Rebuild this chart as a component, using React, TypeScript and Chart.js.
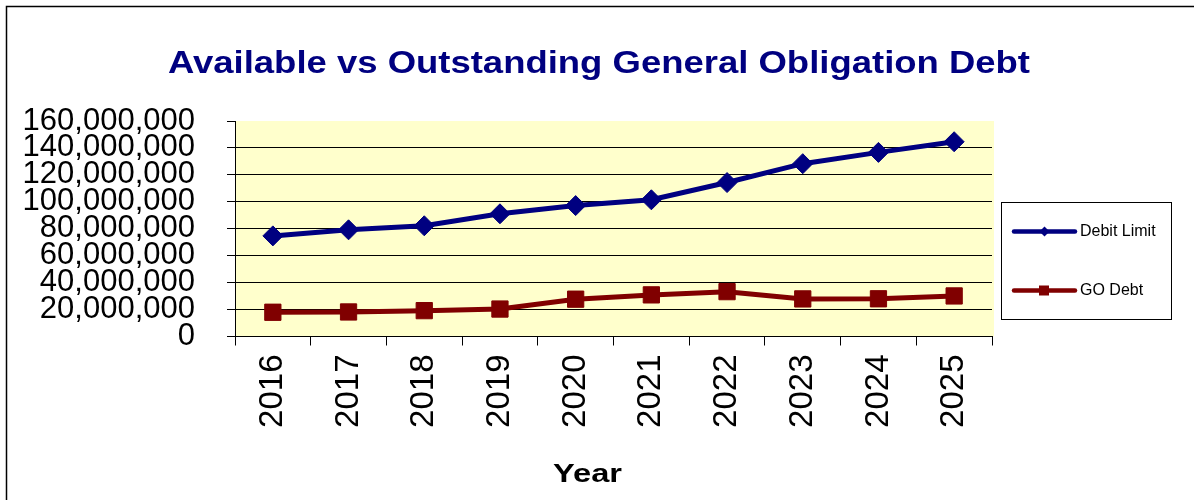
import React, { useEffect, useRef } from "react";
import { Chart, registerables } from "chart.js";

Chart.register(...registerables);

const chartTitle = "Available vs Outstanding General Obligation Debt";
const xAxisTitle = "Year";
const years = ["2016", "2017", "2018", "2019", "2020", "2021", "2022", "2023", "2024", "2025"];
const debitLimit = [74700000, 79200000, 82200000, 91100000, 97200000, 101500000, 114300000, 128300000, 136700000, 144600000];
const goDebt = [18000000, 18200000, 19200000, 20400000, 27700000, 30900000, 33300000, 27900000, 28000000, 30100000];
const seriesLabels = ["Debit Limit", "GO Debt"];
const seriesColors = ["#000080", "#800000"];
const seriesMarkers = ["rectRot", "rect"];
const yMin = 0;
const yMax = 160000000;
const yStep = 20000000;

const FONT = "'Liberation Sans', Arial, sans-serif";

function drawFitted(ctx: CanvasRenderingContext2D, text: string, font: string, cx: number, baseline: number, width: number) {
  ctx.save();
  ctx.font = font;
  ctx.textAlign = "left";
  ctx.textBaseline = "alphabetic";
  const w = ctx.measureText(text).width;
  const sx = width / w;
  ctx.translate(cx - width / 2, baseline);
  ctx.scale(sx, 1);
  ctx.fillText(text, 0, 0);
  ctx.restore();
}

export default function App() {
  const ref = useRef<HTMLCanvasElement | null>(null);

  useEffect(() => {
    document.body.style.margin = "0";
    const canvas = ref.current;
    if (!canvas) return;

    const decor = {
      id: "decor",
      beforeDraw(chart: any) {
        const { ctx, chartArea } = chart;
        ctx.save();
        ctx.fillStyle = "#ffffff";
        ctx.fillRect(0, 0, chart.width, chart.height);
        // outer frame
        ctx.strokeStyle = "#000000";
        ctx.lineWidth = 1.5;
        ctx.strokeRect(6.5, 6.5, 3000, 3000);
        // plot background
        ctx.fillStyle = "#FFFFCC";
        ctx.fillRect(chartArea.left, chartArea.top, chartArea.right - chartArea.left + 2, chartArea.bottom - chartArea.top);
        ctx.restore();
      },
      afterDraw(chart: any) {
        const { ctx } = chart;
        ctx.save();
        // chart title
        ctx.fillStyle = "#000080";
        drawFitted(ctx, chartTitle, `bold 31px ${FONT}`, 599, 72.5, 862);
        // x axis title
        ctx.fillStyle = "#000000";
        drawFitted(ctx, xAxisTitle, `bold 25px ${FONT}`, 587.5, 482, 69);

        // legend box
        const bx = 1001.5, by = 202.5, bw = 170, bh = 117;
        ctx.strokeStyle = "#000000";
        ctx.lineWidth = 1;
        ctx.strokeRect(bx, by, bw, bh);
        const rowsY = [231.5, 290.5];
        chart.data.datasets.forEach((ds: any, i: number) => {
          const y = rowsY[i];
          ctx.strokeStyle = ds.borderColor;
          ctx.lineWidth = 4.5;
          ctx.lineCap = "round";
          ctx.beginPath();
          ctx.moveTo(1014, y);
          ctx.lineTo(1075, y);
          ctx.stroke();
          ctx.fillStyle = ds.borderColor;
          if (ds.pointStyle === "rectRot") {
            ctx.beginPath();
            ctx.moveTo(1044.5, y - 5);
            ctx.lineTo(1049.5, y);
            ctx.lineTo(1044.5, y + 5);
            ctx.lineTo(1039.5, y);
            ctx.closePath();
            ctx.fill();
          } else {
            ctx.fillRect(1039, y - 5, 10, 10);
          }
          ctx.fillStyle = "#000000";
          ctx.font = `16px ${FONT}`;
          ctx.textAlign = "left";
          ctx.textBaseline = "middle";
          ctx.fillText(ds.label, 1080, y);
        });
        ctx.restore();
      },
    };

    const chart = new Chart(canvas, {
      type: "line",
      data: {
        labels: years,
        datasets: [
          {
            label: seriesLabels[0],
            data: debitLimit,
            borderColor: seriesColors[0],
            backgroundColor: seriesColors[0],
            borderWidth: 5,
            pointStyle: seriesMarkers[0] as any,
            pointRadius: 10,
            pointBorderWidth: 1,
            pointBackgroundColor: seriesColors[0],
            pointBorderColor: seriesColors[0],
            tension: 0,
          },
          {
            label: seriesLabels[1],
            data: goDebt,
            borderColor: seriesColors[1],
            backgroundColor: seriesColors[1],
            borderWidth: 5,
            pointStyle: seriesMarkers[1] as any,
            pointRadius: 11.5,
            pointBorderWidth: 1,
            pointBackgroundColor: seriesColors[1],
            pointBorderColor: seriesColors[1],
            tension: 0,
          },
        ],
      },
      options: {
        animation: false,
        responsive: false,
        devicePixelRatio: 1,
        layout: { padding: { left: 0, right: 202, top: 121, bottom: 0 } },
        plugins: {
          legend: { display: false },
          tooltip: { enabled: false },
          title: { display: false },
        },
        scales: {
          x: {
            offset: true,
            grid: {
              offset: true,
              drawOnChartArea: false,
              tickLength: 9,
              color: "#000000",
              lineWidth: 1,
            },
            border: { display: true, color: "#000000", width: 1 },
            ticks: {
              color: "#000000",
              font: { family: FONT, size: 33, lineHeight: 1.2 },
              minRotation: 90,
              maxRotation: 90,
              padding: 9,
              autoSkip: false,
            },
            afterFit(scale: any) {
              scale.height = 163.5;
            },
          },
          y: {
            min: yMin,
            max: yMax,
            grid: {
              tickLength: 8,
              lineWidth: 1,
              color: (c: any) => (c.tick && c.tick.value === yMax ? "rgba(0,0,0,0)" : "#000000"),
              tickColor: "#000000",
            },
            border: { display: true, color: "#000000", width: 1 },
            ticks: {
              stepSize: yStep,
              autoSkip: false,
              color: "#000000",
              padding: 32,
              font: { family: FONT, size: 31, lineHeight: 1 },
              callback: (v: any) => Number(v).toLocaleString("en-US"),
            },
            afterFit(scale: any) {
              scale.width = 235;
            },
          },
        },
      },
      plugins: [decor],
    });

    return () => chart.destroy();
  }, []);

  return (
    <div style={{ width: 1194, height: 500 }}>
      <canvas ref={ref} width={1194} height={500} style={{ display: "block" }} />
    </div>
  );
}
